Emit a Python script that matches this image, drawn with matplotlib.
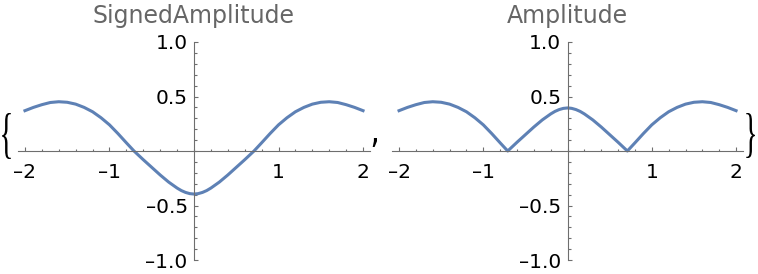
import numpy as np
import matplotlib.pyplot as plt
from matplotlib.ticker import MultipleLocator, FixedLocator, FixedFormatter
from matplotlib.textpath import TextPath
from matplotlib.patches import PathPatch
from matplotlib.font_manager import FontProperties
from matplotlib.transforms import Affine2D

# values
x = [-2.0, -1.9, -1.8, -1.7, -1.6, -1.5, -1.4, -1.3, -1.2, -1.1, -1.0,
     -0.9, -0.8, -0.71, -0.6, -0.5, -0.4, -0.3, -0.2, -0.15, -0.1, -0.05, 0.0,
     0.05, 0.1, 0.15, 0.2, 0.3, 0.4, 0.5, 0.6, 0.71, 0.8, 0.9, 1.0,
     1.1, 1.2, 1.3, 1.4, 1.5, 1.6, 1.7, 1.8, 1.9, 2.0]
signed = [0.37, 0.40, 0.425, 0.445, 0.452, 0.447, 0.43, 0.40, 0.36, 0.305, 0.24,
          0.16, 0.075, 0.0, -0.08, -0.15, -0.22, -0.285, -0.34, -0.363, -0.38, -0.391, -0.395,
          -0.391, -0.38, -0.363, -0.34, -0.285, -0.22, -0.15, -0.08, 0.0, 0.075, 0.16, 0.24,
          0.305, 0.36, 0.40, 0.43, 0.447, 0.452, 0.445, 0.425, 0.40, 0.37]
amplitude = np.abs(signed)

titles = ['SignedAmplitude', 'Amplitude']
xticks = [-2, -1, 1, 2]
xlabels = ['\u20132', '\u20131', '1', '2']
yticks = [-1.0, -0.5, 0.5, 1.0]
ylabels = ['\u20131.0', '\u20130.5', '0.5', '1.0']

W, H = 758, 274
LINE = '#5e81b5'
AXC = '#6e6e6e'


def setup(ax, title):
    ax.set_xlim(-2.08, 2.08)
    ax.set_ylim(-1, 1)
    ax.patch.set_visible(False)
    for s in ['top', 'right']:
        ax.spines[s].set_visible(False)
    for s in ['left', 'bottom']:
        ax.spines[s].set_position(('data', 0))
        ax.spines[s].set_color(AXC)
        ax.spines[s].set_linewidth(0.8)
    ax.xaxis.set_major_locator(FixedLocator(xticks))
    ax.xaxis.set_major_formatter(FixedFormatter(xlabels))
    ax.xaxis.set_minor_locator(MultipleLocator(0.2))
    ax.yaxis.set_major_locator(FixedLocator(yticks))
    ax.yaxis.set_major_formatter(FixedFormatter(ylabels))
    ax.yaxis.set_minor_locator(MultipleLocator(0.1))
    ax.tick_params(which='both', direction='in', color=AXC, width=0.8,
                   labelsize=14.5, labelcolor='black')
    ax.tick_params(which='major', length=3.2)
    ax.tick_params(which='minor', length=1.8)
    ax.tick_params(axis='x', pad=8.5)
    ax.tick_params(axis='y', pad=4.5)
    # title centred over the y axis, baseline about 23 px from the top
    cx = ax.transData.transform((0, 0))[0]
    ax.figure.text(cx / W, (H - 23) / H, title, color='#666666', fontsize=17,
                   ha='center', va='baseline')


def glyph(fig, ch, x0, x1, y0, y1, family='Liberation Serif'):
    # fit a glyph into a box given in image pixels (y from top)
    path = TextPath((0, 0), ch, size=1, prop=FontProperties(family=family))
    ext = path.get_extents()
    sx = (x1 - x0) / ext.width
    sy = (y1 - y0) / ext.height
    tr = Affine2D().translate(-ext.x0, -ext.y0).scale(sx, sy).translate(x0, H - y1)
    fig.patches.append(PathPatch(tr.transform_path(path), facecolor='black',
                                 edgecolor='none', transform=None))


fig = plt.figure(figsize=(W / 100, H / 100), dpi=100)
ax1 = fig.add_axes([18.2 / W, 14 / H, 351.6 / W, 218 / H])
ax2 = fig.add_axes([392.3 / W, 14 / H, 350.5 / W, 218 / H])

ax1.plot(x, signed, color=LINE, lw=2.2)
ax2.plot(x, amplitude, color=LINE, lw=2.2)
setup(ax1, titles[0])
setup(ax2, titles[1])

glyph(fig, '{', 2.0, 10.8, 113, 159)
glyph(fig, '}', 746.3, 755.0, 113, 158)
glyph(fig, ',', 372.7, 377.0, 138, 147, family='DejaVu Sans')

fig.savefig('out.png', dpi=100)
